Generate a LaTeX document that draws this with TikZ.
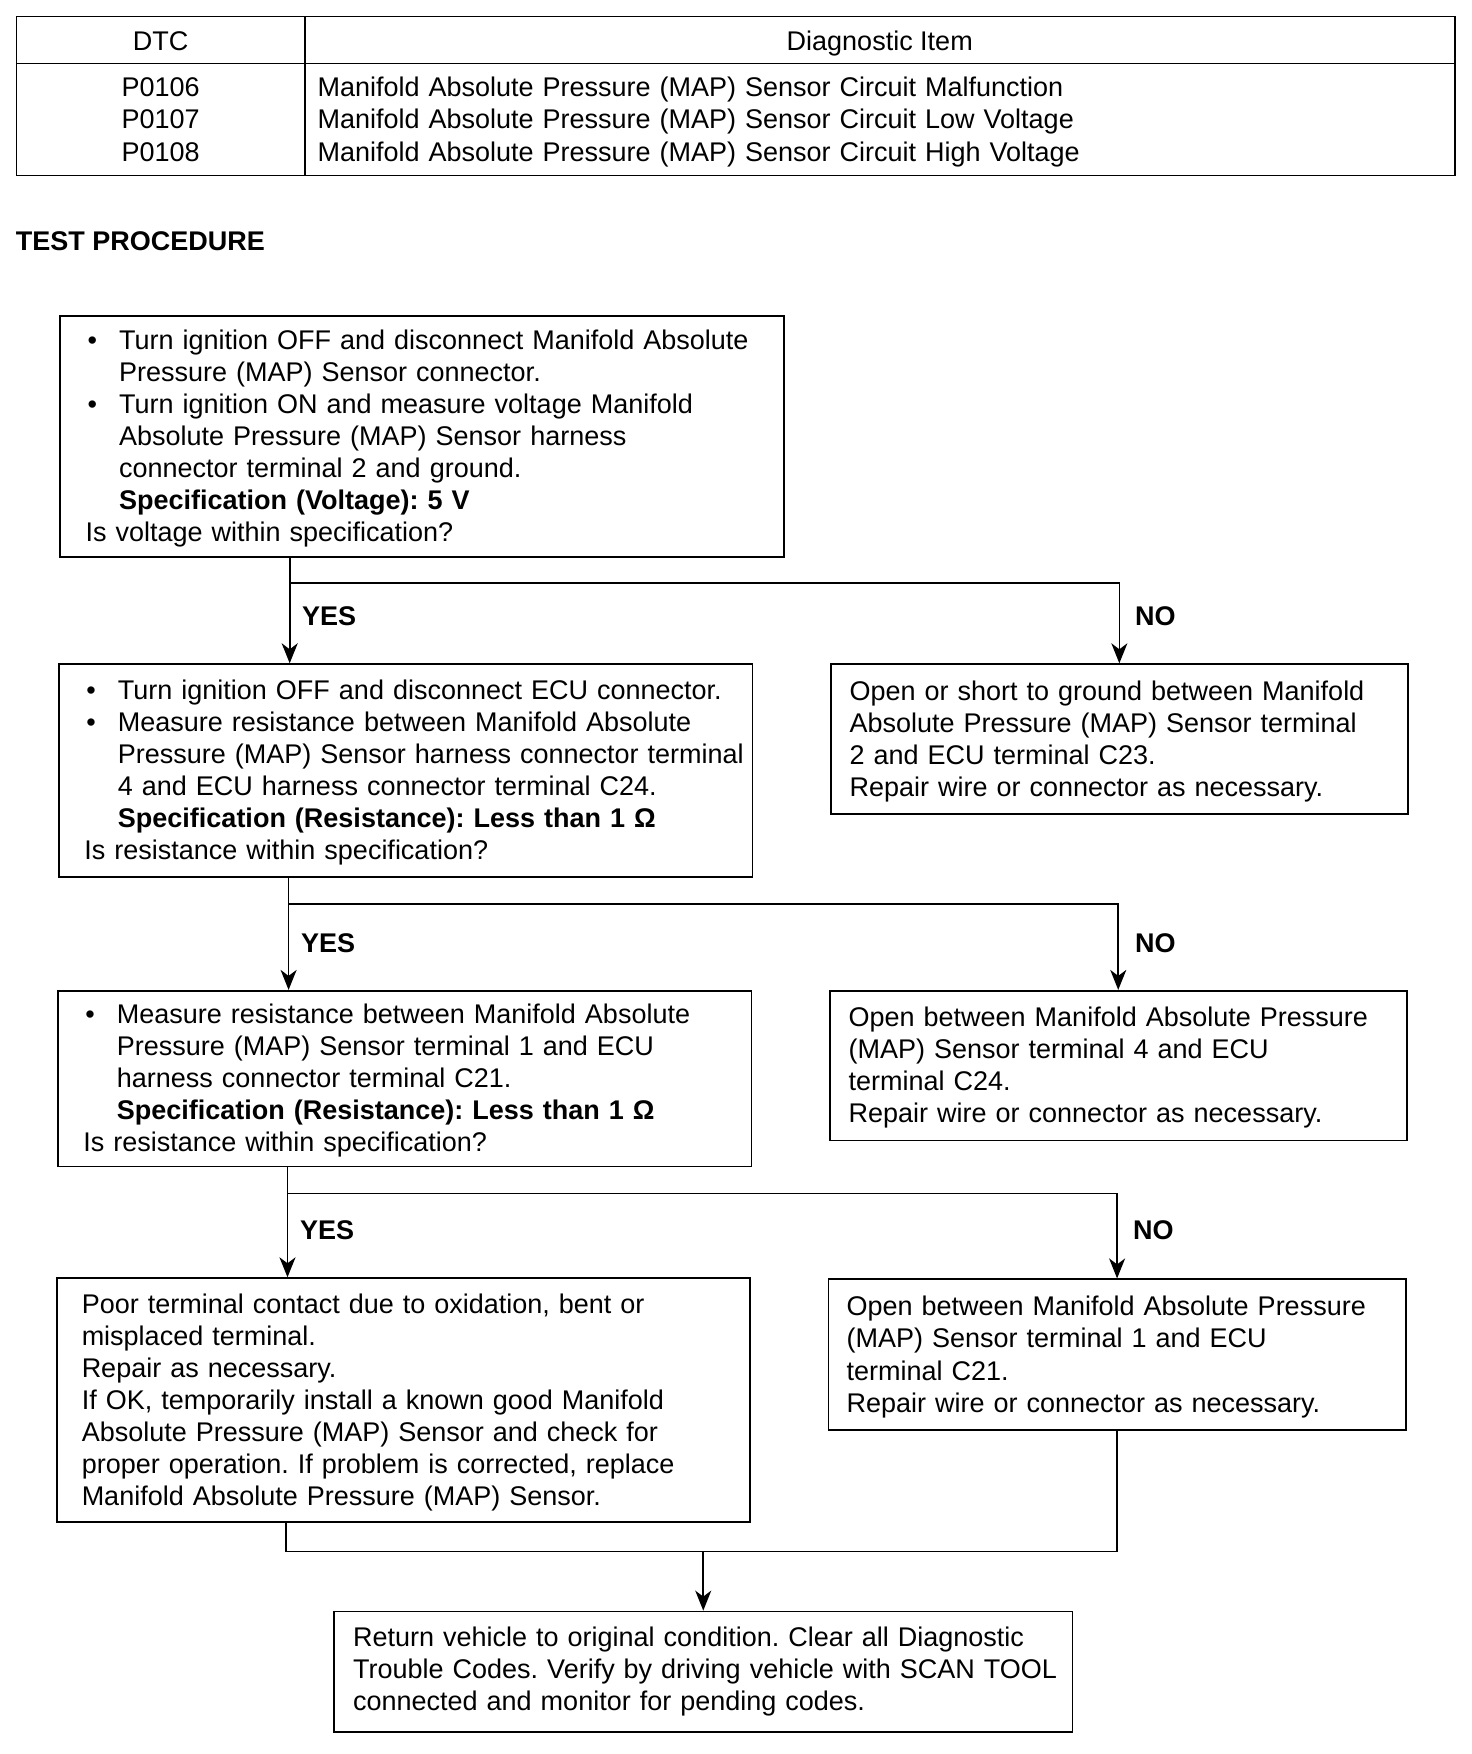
\documentclass[tikz,border=0pt]{standalone}
\usepackage{fontspec}
\setmainfont{Liberation Sans}
\usetikzlibrary{arrows.meta}
\frenchspacing
\newcommand{\bitem}{\makebox[33.5pt][l]{\hspace{2pt}•}}
\newcommand{\bcont}{\hspace*{33.5pt}}
\newcommand{\tlines}[1]{\begin{tabular}{@{}l@{}}\rule{0pt}{28pt}#1\end{tabular}}
\newcommand{\clines}[1]{\begin{tabular}{@{}c@{}}\rule{0pt}{29pt}#1\end{tabular}}
\begin{document}
\begin{tikzpicture}[x=1pt,y=-1pt,
  txt/.style={font=\fontsize{27}{32.1}\selectfont\frenchspacing},
  box/.style={draw, line width=1.7pt, anchor=north west, inner ysep=0pt, align=left, txt},
  cell/.style={draw, line width=1.5pt, anchor=north west, inner ysep=0pt, txt},
  lbl/.style={font=\fontsize{27}{32}\selectfont\bfseries, anchor=west, inner sep=0pt},
  conn/.style={line width=1.7pt},
  arr/.style={conn, -{Stealth[length=20pt,width=16pt,inset=6pt]}}
]
\fill[white] (0,0) rectangle (1472,1754);
\useasboundingbox (0,0) rectangle (1472,1754);

% table
\node[cell, minimum width=288.3pt, minimum height=46.9pt, text height=21pt, text depth=0pt] (dtch) at (15.7,15.7) {DTC};
\node[cell, minimum width=1150pt, minimum height=46.9pt, text height=21pt, text depth=0pt] (itemh) at (304,15.7) {Diagnostic Item};
\node[cell, minimum width=288.3pt, minimum height=111.9pt] (dtcb) at (15.7,62.6) {\clines{P0106\\P0107\\P0108}};
\node[cell, minimum width=1150pt, minimum height=111.9pt, inner xsep=12.8pt, text width=1124.4pt, align=left] (itemb) at (304,62.6)
  {\begin{tabular}{@{}l@{}}\rule{0pt}{29pt}Manifold Absolute Pressure (MAP) Sensor Circuit Malfunction\\
  Manifold Absolute Pressure (MAP) Sensor Circuit Low Voltage\\
  Manifold Absolute Pressure (MAP) Sensor Circuit High Voltage\end{tabular}};

\node[lbl] (tp) at (15.7,241.6) {TEST PROCEDURE};

% boxes
\node[box, minimum width=723.7pt, minimum height=240.5pt, inner xsep=25.5pt, text width=672.7pt] (b1) at (59.3,315.4)
  {\tlines{\bitem Turn ignition OFF and disconnect Manifold Absolute\\
  \bcont Pressure (MAP) Sensor connector.\\
  \bitem Turn ignition ON and measure voltage Manifold\\
  \bcont Absolute Pressure (MAP) Sensor harness\\
  \bcont connector terminal 2 and ground.\\
  \bcont\textbf{Specification (Voltage): 5 V}\\
  Is voltage within specification?}};

\node[box, minimum width=693.4pt, minimum height=212.5pt, inner xsep=25.4pt, text width=642.6pt] (b2) at (58.2,663.3)
  {\tlines{\bitem Turn ignition OFF and disconnect ECU connector.\\
  \bitem Measure resistance between Manifold Absolute\\
  \bcont Pressure (MAP) Sensor harness connector terminal\\
  \bcont 4 and ECU harness connector terminal C24.\\
  \bcont\textbf{Specification (Resistance): Less than 1 Ω}\\
  Is resistance within specification?}};

\node[box, minimum width=577pt, minimum height=149.9pt, inner xsep=18.7pt, text width=539.6pt] (n1) at (830,663.3)
  {\tlines{Open or short to ground between Manifold\\
  Absolute Pressure (MAP) Sensor terminal\\
  2 and ECU terminal C23.\\
  Repair wire or connector as necessary.}};

\node[box, minimum width=693.5pt, minimum height=175.6pt, inner xsep=25.5pt, text width=642.5pt] (b3) at (57,989.9)
  {\tlines{\bitem Measure resistance between Manifold Absolute\\
  \bcont Pressure (MAP) Sensor terminal 1 and ECU\\
  \bcont harness connector terminal C21.\\
  \bcont\textbf{Specification (Resistance): Less than 1 Ω}\\
  Is resistance within specification?}};

\node[box, minimum width=577.2pt, minimum height=149.8pt, inner xsep=19pt, text width=539.2pt] (n2) at (828.8,989.9)
  {\tlines{Open between Manifold Absolute Pressure\\
  (MAP) Sensor terminal 4 and ECU\\
  terminal C24.\\
  Repair wire or connector as necessary.}};

\node[box, minimum width=693.5pt, minimum height=243.9pt, inner xsep=25pt, text width=643.5pt] (b4) at (55.9,1277.3)
  {\tlines{Poor terminal contact due to oxidation, bent or\\
  misplaced terminal.\\
  Repair as necessary.\\
  If OK, temporarily install a known good Manifold\\
  Absolute Pressure (MAP) Sensor and check for\\
  proper operation. If problem is corrected, replace\\
  Manifold Absolute Pressure (MAP) Sensor.}};

\node[box, minimum width=577.1pt, minimum height=151pt, inner xsep=18pt, text width=541.1pt] (n3) at (827.7,1278.4)
  {\tlines{Open between Manifold Absolute Pressure\\
  (MAP) Sensor terminal 1 and ECU\\
  terminal C21.\\
  Repair wire or connector as necessary.}};

\node[box, minimum width=738.2pt, minimum height=120.8pt, inner xsep=19pt, text width=700.2pt] (fin) at (333.3,1610.6)
  {\begin{tabular}{@{}l@{}}Return vehicle to original condition. Clear all Diagnostic\\
  Trouble Codes. Verify by driving vehicle with SCAN TOOL\\
  connected and monitor for pending codes.\end{tabular}};

% connectors
\coordinate (j1) at (289.7,582.7);
\coordinate (j2) at (288.6,903.7);
\coordinate (j3) at (287.5,1193.4);
\coordinate (m1) at (286.3,1551.4);

\draw[arr] (b1.south -| j1) -- (b2.north -| j1);
\draw[arr] (j1) -| (n1.north);
\draw[arr] (b2.south -| j2) -- (b3.north -| j2);
\draw[arr] (j2) -| (n2.north);
\draw[arr] (b3.south -| j3) -- (b4.north -| j3);
\draw[arr] (j3) -| (n3.north);
\draw[conn] (b4.south -| m1) -- (m1) -| (n3.south);
\draw[arr] (m1 -| fin.north) -- (fin.north);

% labels
\node[lbl] (y1) at (302,616.3) {YES};
\node[lbl] (no1) at (1135,616.3) {NO};
\node[lbl] (y2) at (301,942.9) {YES};
\node[lbl] (no2) at (1135,942.9) {NO};
\node[lbl] (y3) at (299.8,1230.4) {YES};
\node[lbl] (no3) at (1133,1230.4) {NO};
\end{tikzpicture}
\end{document}
